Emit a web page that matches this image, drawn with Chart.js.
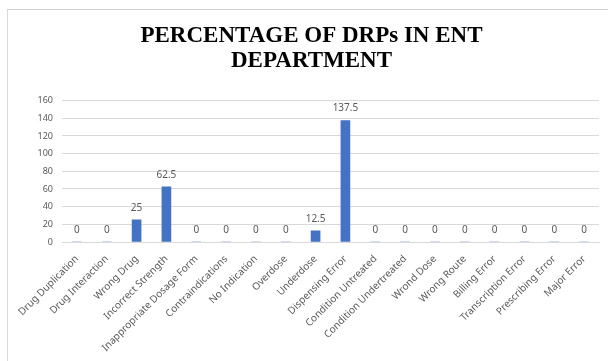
<!DOCTYPE html>
<html>
<head>
<meta charset="utf-8">
<script src="https://cdn.jsdelivr.net/npm/chart.js@4.4.1/dist/chart.umd.min.js"></script>
<style>
  html, body { margin: 0; padding: 0; background: #fff; }
  #frame {
    position: absolute; left: 7px; top: 9px;
    width: 601px; height: 352px;
    border-top: 1px solid #d0d0d0; border-left: 1px solid #d9d9d9;
    box-sizing: border-box;
  }
</style>
</head>
<body>
<div id="frame"><canvas id="drpChart"></canvas></div>
<script>
const categories = [
  'Drug Duplication', 'Drug Interaction', 'Wrong Drug', 'Incorrect Strength',
  'Inappropriate Dosage Form', 'Contraindications', 'No Indication', 'Overdose',
  'Underdose', 'Dispensing Error', 'Condition Untreated', 'Condition Undertreated',
  'Wrond Dose', 'Wrong Route', 'Billing Error', 'Transcription Error',
  'Prescribing Error', 'Major Error'
];
// percentages per DRP type
const percentages = [0, 0, 25, 62.5, 0, 0, 0, 0, 12.5, 137.5, 0, 0, 0, 0, 0, 0, 0, 0];
const yTicks = [0, 20, 40, 60, 80, 100, 120, 140, 160];

const labelFont = "'Noto Sans', 'Open Sans', sans-serif";
const grey = '#595959';

// value labels drawn above every bar
const barValues = {
  id: 'barValues',
  afterDatasetsDraw(chart) {
    const ctx = chart.ctx;
    const meta = chart.getDatasetMeta(0);
    ctx.save();
    ctx.font = '10px ' + labelFont;
    ctx.fillStyle = grey;
    ctx.textAlign = 'center';
    ctx.textBaseline = 'middle';
    meta.data.forEach((bar, i) => {
      ctx.fillText(String(percentages[i]), bar.x, bar.y - 12);
    });
    ctx.restore();
  }
};

new Chart(document.getElementById('drpChart'), {
  type: 'bar',
  data: {
    labels: categories,
    datasets: [{
      data: percentages,
      backgroundColor: '#4472C4',
      barThickness: 9
    }]
  },
  options: {
    responsive: true,
    maintainAspectRatio: false,
    animation: false,
    layout: { padding: { left: 16, right: 9, bottom: 0 } },
    plugins: {
      legend: { display: false },
      tooltip: { enabled: false },
      title: {
        display: true,
        text: ['PERCENTAGE OF DRPs IN ENT', 'DEPARTMENT'],
        color: '#000',
        font: { family: "'Liberation Serif', 'Times New Roman', serif", size: 23, weight: 'bold', lineHeight: 1.1 },
        padding: { top: 13, bottom: 27 }
      }
    },
    scales: {
      x: {
        grid: { display: false },
        border: { color: '#d9d9d9' },
        ticks: {
          color: grey,
          font: { family: labelFont, size: 10 },
          minRotation: 45,
          maxRotation: 45,
          autoSkip: false,
          padding: 3
        },
        afterFit(scale) { scale.height = 119; }
      },
      y: {
        min: 0,
        max: 160,
        afterBuildTicks(scale) { scale.ticks = yTicks.map(v => ({ value: v })); },
        grid: { color: '#d9d9d9', drawTicks: false },
        border: { display: false },
        ticks: {
          color: grey,
          font: { family: labelFont, size: 9 },
          padding: 9
        },
        afterFit(scale) { scale.width = 38; }
      }
    }
  },
  plugins: [barValues]
});
</script>
</body>
</html>
